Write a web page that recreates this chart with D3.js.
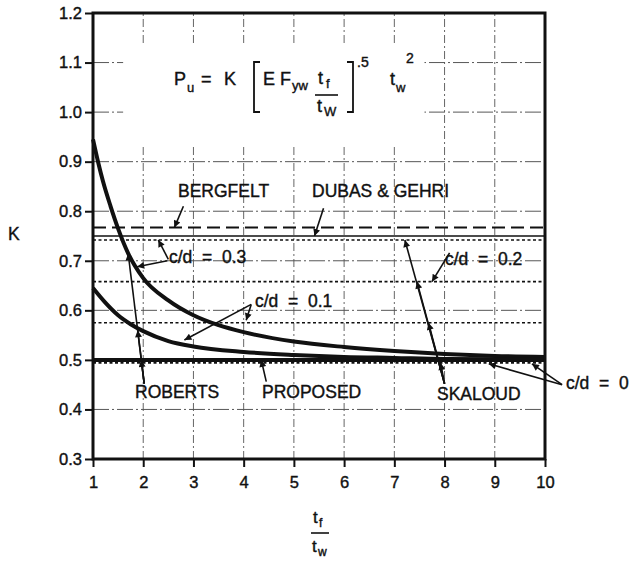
<!DOCTYPE html>
<html>
<head>
<meta charset="utf-8">
<script src="https://cdn.jsdelivr.net/npm/d3@7"></script>
<style>
  body { margin: 0; background: #fff; }
  text { font-family: "Liberation Sans", Arial, sans-serif; fill: #111; stroke: #111; stroke-width: 0.4px; }
</style>
</head>
<body>
<div id="chart"></div>
<script>
// ---- data ----
var xTicks = [1, 2, 3, 4, 5, 6, 7, 8, 9, 10];
var yTicks = [0.3, 0.4, 0.5, 0.6, 0.7, 0.8, 0.9, 1.0, 1.1, 1.2];

// Roberts curves (c/d = 0.3 upper, c/d = 0.1 lower)
var robertsX03 = [1, 1.1, 1.2, 1.35, 1.5, 1.7, 2, 2.5, 3, 3.5, 4, 5, 6, 7, 8, 9, 10];
var robertsK03 = [0.945, 0.9, 0.86, 0.81, 0.765, 0.715, 0.665, 0.62, 0.59, 0.57, 0.556, 0.537, 0.526, 0.518, 0.512, 0.508, 0.506];
var robertsX01 = [1, 1.25, 1.5, 1.75, 2, 2.5, 3, 4, 5, 6, 7, 8, 10];
var robertsK01 = [0.645, 0.615, 0.59, 0.572, 0.558, 0.538, 0.527, 0.516, 0.51, 0.506, 0.504, 0.502, 0.501];

var bergfeltK = 0.767;
var dubasGehriK = 0.75;
var proposedK = 0.5;
var skaloudCd = [0.3, 0.2, 0.1, 0];
var skaloudK = [0.742, 0.658, 0.575, 0.494];

var width = 632, height = 561;
var margin = {left: 93, right: 87, top: 13, bottom: 102};

var x = d3.scaleLinear().domain([1, 10]).range([margin.left, width - margin.right]);
var y = d3.scaleLinear().domain([0.3, 1.2]).range([height - margin.bottom, margin.top]);

var svg = d3.select("#chart").append("svg")
  .attr("width", width)
  .attr("height", height);

var defs = svg.append("defs");
defs.append("marker")
  .attr("id", "arr")
  .attr("viewBox", "0 0 10 10")
  .attr("refX", 10).attr("refY", 5)
  .attr("markerWidth", 9).attr("markerHeight", 7)
  .attr("markerUnits", "userSpaceOnUse")
  .attr("orient", "auto")
  .append("path").attr("d", "M0,0 L10,5 L0,10 Z").attr("fill", "#111");

// grid
svg.append("g").selectAll("line")
  .data(yTicks.slice(1, -1)).enter().append("line")
  .attr("x1", x(1)).attr("x2", x(10))
  .attr("y1", d => y(d)).attr("y2", d => y(d))
  .attr("stroke", "#444").attr("stroke-width", 0.9)
  .attr("stroke-dasharray", "16,3,2,3");
svg.append("g").selectAll("line")
  .data(xTicks.slice(1, -1)).enter().append("line")
  .attr("x1", d => x(d)).attr("x2", d => x(d))
  .attr("y1", y(0.3)).attr("y2", y(1.2))
  .attr("stroke", "#555").attr("stroke-width", 0.9)
  .attr("stroke-dasharray", "8,3,2,3");

// blank area behind the formula
svg.append("rect")
  .attr("x", x(1.6)).attr("y", y(1.135))
  .attr("width", x(7.6) - x(1.6)).attr("height", y(0.935) - y(1.135))
  .attr("fill", "#fff");

// horizontal reference lines
function hline(k, w, dash) {
  svg.append("line")
    .attr("x1", x(1)).attr("x2", x(10))
    .attr("y1", y(k)).attr("y2", y(k))
    .attr("stroke", "#111").attr("stroke-width", w)
    .attr("stroke-dasharray", dash);
}
hline(bergfeltK, 2, "13,6");
hline(dubasGehriK, 1.6, null);
skaloudK.forEach(function(k) { hline(k, 1.6, "3,2.5"); });
hline(proposedK, 4, null);

// Roberts curves
var line = d3.line().x(d => x(d[0])).y(d => y(d[1])).curve(d3.curveMonotoneX);
svg.append("path")
  .attr("d", line(d3.zip(robertsX03, robertsK03)))
  .attr("fill", "none").attr("stroke", "#111").attr("stroke-width", 4);
svg.append("path")
  .attr("d", line(d3.zip(robertsX01, robertsK01)))
  .attr("fill", "none").attr("stroke", "#111").attr("stroke-width", 4);

// axes
var yAxis = svg.append("g")
  .attr("transform", "translate(" + x(1) + ",0)")
  .call(d3.axisLeft(y).tickValues(yTicks).tickSize(8).tickPadding(3).tickFormat(d3.format(".1f")));
var xAxis = svg.append("g")
  .attr("transform", "translate(0," + y(0.3) + ")")
  .call(d3.axisBottom(x).tickValues(xTicks).tickSize(8).tickPadding(9).tickFormat(d3.format("d")));
[yAxis, xAxis].forEach(function(a) {
  a.attr("font-size", 16.5).attr("font-family", null);
  a.select(".domain").remove();
  a.selectAll(".tick line").attr("stroke", "#111").attr("stroke-width", 2);
  a.selectAll("text").attr("fill", "#111");
});

// frame
svg.append("rect")
  .attr("x", x(1)).attr("y", y(1.2))
  .attr("width", x(10) - x(1)).attr("height", y(0.3) - y(1.2))
  .attr("fill", "none").attr("stroke", "#111").attr("stroke-width", 3);

// arrows: [from x, from K, to x, to K]
var arrows = [
  [2.80, 0.81, 2.62, bergfeltK],          // BERGFELT
  [5.59, 0.806, 5.41, dubasGehriK],       // DUBAS & GEHRI
  [2.48, 0.70, 1.88, 0.688],              // c/d = 0.3 -> curve
  [2.50, 0.703, 2.30, skaloudK[0]],       // c/d = 0.3 -> dotted
  [8.10, 0.716, 7.75, skaloudK[1]],       // c/d = 0.2 -> dotted
  [4.15, 0.612, 2.82, 0.54],              // c/d = 0.1 -> curve
  [4.15, 0.612, 4.05, 0.58],              // c/d = 0.1 -> dotted
  [4.45, 0.456, 4.35, proposedK],         // PROPOSED
  [10.34, 0.45, 8.88, 0.492],             // c/d = 0
  [10.34, 0.45, 9.74, 0.492],
  // ROBERTS
  [2.02, 0.452, 1.96, 0.5],
  [2.02, 0.452, 1.89, 0.56],
  [2.02, 0.452, 1.70, 0.715],
  // SKALOUD
  [8.0, 0.452, 7.92, 0.494],
  [8.0, 0.452, 7.68, 0.575],
  [8.0, 0.452, 7.45, 0.658],
  [8.0, 0.452, 7.21, 0.742]
];
svg.append("g").selectAll("line")
  .data(arrows).enter().append("line")
  .attr("x1", d => x(d[0])).attr("y1", d => y(d[1]))
  .attr("x2", d => x(d[2])).attr("y2", d => y(d[3]))
  .attr("stroke", "#111").attr("stroke-width", 1.6)
  .attr("marker-end", "url(#arr)");

// labels
var labels = [
  ["BERGFELT", 178, 197],
  ["DUBAS & GEHRI", 312, 197],
  ["c/d  =  0.3", 169, 263],
  ["c/d  =  0.2", 445, 265],
  ["c/d  =  0.1", 255, 307],
  ["ROBERTS", 135, 398],
  ["PROPOSED", 262, 398],
  ["SKALOUD", 437, 400],
  ["c/d  =  0", 566, 389],
  ["K", 8, 240]
];
svg.append("g").selectAll("text")
  .data(labels).enter().append("text")
  .attr("x", d => d[1]).attr("y", d => d[2])
  .attr("font-size", 17.5)
  .attr("xml:space", "preserve")
  .style("white-space", "pre")
  .text(d => d[0]);

// formula  Pu = K [E Fyw tf/tw].5 tw^2
var f = svg.append("g");
function t(s, px, py, size) {
  f.append("text").attr("x", px).attr("y", py).attr("font-size", size || 18).text(s);
}
t("P", 174, 85); t("u", 187, 92, 13);
t("=", 201, 85);
t("K", 224, 85);
t("E", 263, 85); t("F", 280, 85); t("yw", 292, 90, 13);
t("t", 318, 84); t("f", 326, 88, 13);
t("t", 317, 112); t("W", 324, 116, 13);
t(".5", 357, 67, 14);
t("t", 390, 85); t("w", 396, 92, 13); t("2", 406, 63, 14);
f.append("line").attr("x1", 315).attr("x2", 338).attr("y1", 95).attr("y2", 95)
  .attr("stroke", "#111").attr("stroke-width", 1.6);
f.append("path").attr("d", "M260,62 L254,62 L254,112 L260,112")
  .attr("fill", "none").attr("stroke", "#111").attr("stroke-width", 1.8);
f.append("path").attr("d", "M347,62 L353,62 L353,112 L347,112")
  .attr("fill", "none").attr("stroke", "#111").attr("stroke-width", 1.8);

// x-axis title tf / tw
var xl = svg.append("g");
xl.append("text").attr("x", 313).attr("y", 523).attr("font-size", 17).text("t");
xl.append("text").attr("x", 319).attr("y", 527).attr("font-size", 12).text("f");
xl.append("line").attr("x1", 311).attr("x2", 329).attr("y1", 533).attr("y2", 533)
  .attr("stroke", "#111").attr("stroke-width", 1.6);
xl.append("text").attr("x", 312).attr("y", 552).attr("font-size", 17).text("t");
xl.append("text").attr("x", 318).attr("y", 556).attr("font-size", 12).text("w");
</script>
</body>
</html>
